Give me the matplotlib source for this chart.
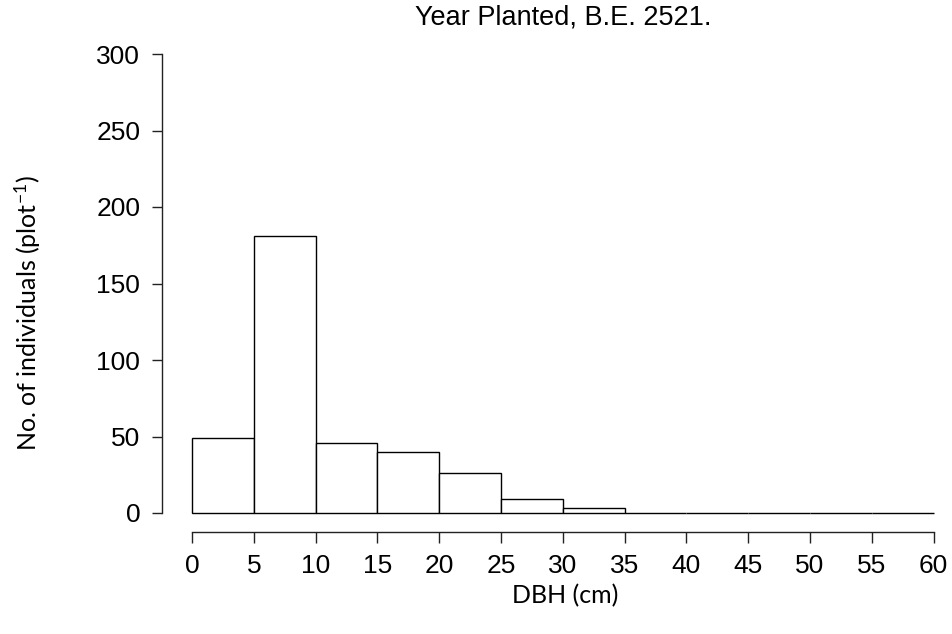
import numpy as np
import matplotlib
matplotlib.use('Agg')
from matplotlib import pyplot as plt

# DBH classes (cm) and counts per plot
bin_edges = [0, 5, 10, 15, 20, 25, 30, 35, 40, 45, 50, 55]
counts = [49, 181, 46, 40, 26, 9, 3, 0, 0, 0, 0, 0]
x_ticks = list(range(0, 61, 5))
y_ticks = list(range(0, 301, 50))
title = 'Year Planted, B.E. 2521.'

plt.rcParams['font.family'] = ['Liberation Sans', 'DejaVu Sans']
plt.rcParams['mathtext.default'] = 'regular'

fig = plt.figure(figsize=(9.52, 6.34), dpi=100)
ax = fig.add_axes([192/952, 1 - 513/634, (933.6 - 192)/952, (513 - 54)/634])

ax.bar(bin_edges, counts, width=5, align='edge', color='white',
       edgecolor='black', linewidth=1.0, clip_on=False)

ax.set_xlim(0, 60)
ax.set_ylim(0, 300)
ax.set_xticks(x_ticks)
ax.set_yticks(y_ticks)

for s in ['top', 'right']:
    ax.spines[s].set_visible(False)
ax.spines['left'].set_position(('outward', 21.6))
ax.spines['bottom'].set_position(('outward', 13.7))
for s in ['left', 'bottom']:
    ax.spines[s].set_linewidth(1.0)
    ax.spines[s].set_color('#222222')

ax.tick_params(axis='x', length=8, width=1.0, color='#222222', pad=8, labelsize=19)
ax.tick_params(axis='y', length=7.2, width=1.0, color='#222222', pad=8.5, labelsize=19)

ax.set_title(title, fontsize=19.5, pad=21)

fig.text(28/952, 0.5055, 'No. of individuals (plot$^{-1}$)', rotation=90,
         ha='center', va='center', fontsize=18, family=['Lato', 'DejaVu Sans'])
fig.text(565/952, 1 - 596/634, 'DBH (cm)', ha='center', va='center',
         fontsize=18, family=['Lato', 'DejaVu Sans'])

fig.savefig('out.png', dpi=100)
